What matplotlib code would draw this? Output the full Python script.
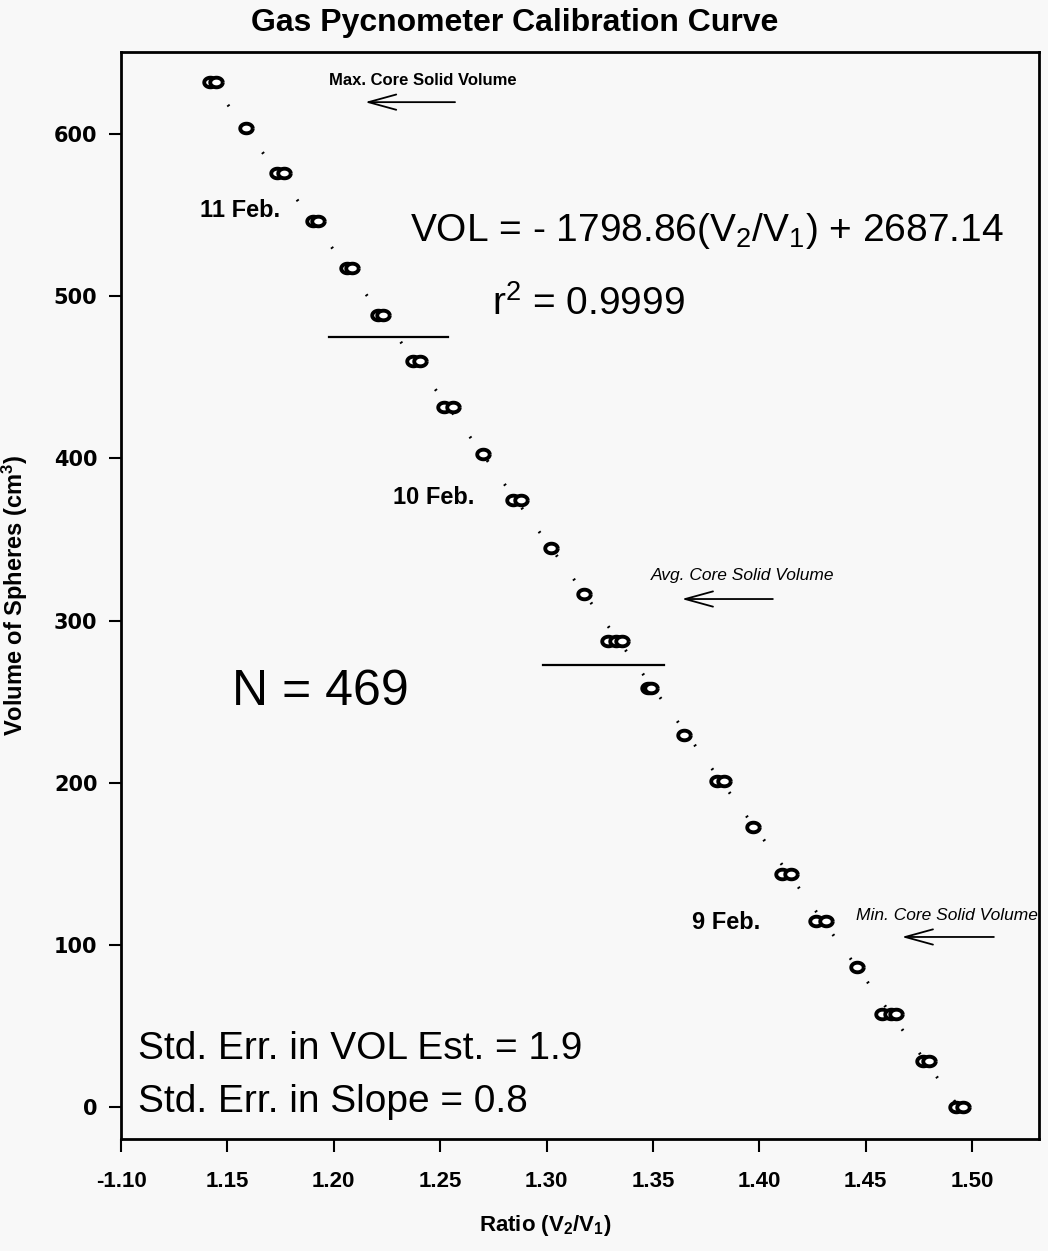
import numpy as np
import matplotlib
matplotlib.use('Agg')
import matplotlib.pyplot as plt
from matplotlib import font_manager

# sphere volume levels (cm^3) and the measured ratios read at each level
volumes = [632.1, 603.7, 576.0, 546.4, 517.4, 488.4, 460.0, 431.7, 402.7, 374.4,
           344.8, 316.4, 287.4, 258.4, 229.4, 201.0, 172.7, 143.7, 114.7, 86.4,
           57.4, 28.5, 0.0]
ratios = [[1.1418, 1.1446], [1.1587], [1.1733, 1.1766], [1.1902, 1.1926],
          [1.2062, 1.2086], [1.2208, 1.2231], [1.2372, 1.2405], [1.2518, 1.2560],
          [1.2701], [1.2842, 1.2880], [1.3021], [1.3176],
          [1.3289, 1.3326, 1.3354], [1.3477, 1.3491], [1.3646], [1.3801, 1.3835],
          [1.3970], [1.4106, 1.4148], [1.4266, 1.4313], [1.4459],
          [1.4576, 1.4618, 1.4642], [1.4769, 1.4797], [1.4924, 1.4957]]

# regression fit shown on the chart
slope = -1798.86
intercept = 2687.14
fit_range = [1.1421, 1.4938]

xticks = [1.10, 1.15, 1.20, 1.25, 1.30, 1.35, 1.40, 1.45, 1.50]
xticklabels = ['-1.10', '1.15', '1.20', '1.25', '1.30', '1.35', '1.40', '1.45', '1.50']
yticks = [0, 100, 200, 300, 400, 500, 600]

names = {f.name for f in font_manager.fontManager.ttflist}
narrow = 'Liberation Sans Narrow' if 'Liberation Sans Narrow' in names else 'Liberation Sans'

plt.rcParams['font.family'] = ['Liberation Sans', 'DejaVu Sans']
plt.rcParams['mathtext.fontset'] = 'custom'
plt.rcParams['mathtext.rm'] = 'Liberation Sans'
plt.rcParams['mathtext.it'] = 'Liberation Sans:italic'
plt.rcParams['mathtext.bf'] = 'Liberation Sans:bold'
plt.rcParams['mathtext.default'] = 'regular'

bg = '#f8f8f8'
fig = plt.figure(figsize=(10.48, 12.51), dpi=100, facecolor=bg)
ax = fig.add_axes([0.1155, 0.0895, 0.8759, 0.8689], facecolor=bg)

# ellipse marker
t = np.linspace(0, 2 * np.pi, 40)
ell = np.column_stack([1.3 * np.cos(t), np.sin(t)])

# dotted fit line
fx = np.array(fit_range)
ax.plot(fx, slope * fx + intercept, color='black', lw=2.2,
        linestyle=(0, (0.6, 9)), dash_capstyle='butt', zorder=1)

for v, rs in zip(volumes, ratios):
    ax.plot(rs, [v] * len(rs), ls='none', marker=ell, markersize=9,
            markerfacecolor='white', markeredgecolor='black', mew=2.8, zorder=3)

# core volume bands
ax.plot([1.1977, 1.2539], [474.8, 474.8], color='black', lw=1.6)
ax.plot([1.2983, 1.3550], [272.6, 272.6], color='black', lw=1.6)

arrow = dict(arrowstyle='->,head_length=2.0,head_width=0.55', lw=1.3, color='black',
             shrinkA=0, shrinkB=0)
ax.annotate('', xy=(1.2147, 619.7), xytext=(1.2570, 619.7), arrowprops=arrow)
ax.annotate('', xy=(1.3636, 313.3), xytext=(1.4064, 313.3), arrowprops=arrow)
ax.annotate('', xy=(1.4670, 104.9), xytext=(1.5103, 104.9), arrowprops=arrow)

ax.text(1.2420, 633, 'Max. Core Solid Volume', fontsize=12, fontweight='bold',
        family=narrow, ha='center', va='center')
ax.text(1.3920, 328, 'Avg. Core Solid Volume', fontsize=12.5, style='italic',
        ha='center', va='center')
ax.text(1.4457, 118, 'Min. Core Solid Volume', fontsize=12.5, style='italic',
        ha='left', va='center', clip_on=False)

ax.text(1.1559, 553, '11 Feb.', fontsize=17, fontweight='bold', ha='center', va='center')
ax.text(1.2470, 376, '10 Feb.', fontsize=17, fontweight='bold', ha='center', va='center')
ax.text(1.3843, 114, '9 Feb.', fontsize=17, fontweight='bold', ha='center', va='center')

ax.text(1.2358, 540, 'VOL = - 1798.86(V$_2$/V$_1$) + 2687.14', fontsize=28,
        ha='left', va='center')
ax.text(1.2743, 495, 'r$^2$ = 0.9999', fontsize=28, ha='left', va='center')
ax.text(1.1935, 256, 'N = 469', fontsize=36, ha='center', va='center')
ax.text(1.1080, 36, 'Std. Err. in VOL Est. = 1.9', fontsize=28, ha='left', va='center')
ax.text(1.1080, 3, 'Std. Err. in Slope = 0.8', fontsize=28, ha='left', va='center')

ax.set_xlim(1.10, 1.5315)
ax.set_ylim(-19.7, 650.6)
ax.set_xticks(xticks)
ax.set_xticklabels(xticklabels, fontsize=16, fontweight='bold')
ax.set_yticks(yticks)
ax.set_yticklabels([str(v) for v in yticks], fontsize=15, fontweight='bold',
                   family='DejaVu Sans')
ax.tick_params(direction='out', length=9, width=1.5)
ax.tick_params(axis='x', pad=14)
ax.tick_params(axis='y', pad=8)

for s in ax.spines.values():
    s.set_linewidth(2)

ax.set_ylabel('Volume of Spheres (cm$^3$)', fontsize=17, fontweight='bold', family=narrow)
ax.yaxis.set_label_coords(-0.099, 0.5)
ax.set_xlabel('Ratio (V$_2$/V$_1$)', fontsize=16, fontweight='bold', family=narrow)
ax.xaxis.set_label_coords(0.462, -0.068)

fig.text(0.491, 0.982, 'Gas Pycnometer Calibration Curve', fontsize=23,
         fontweight='bold', ha='center', va='center')

fig.savefig('out.png', dpi=100, facecolor=bg)
